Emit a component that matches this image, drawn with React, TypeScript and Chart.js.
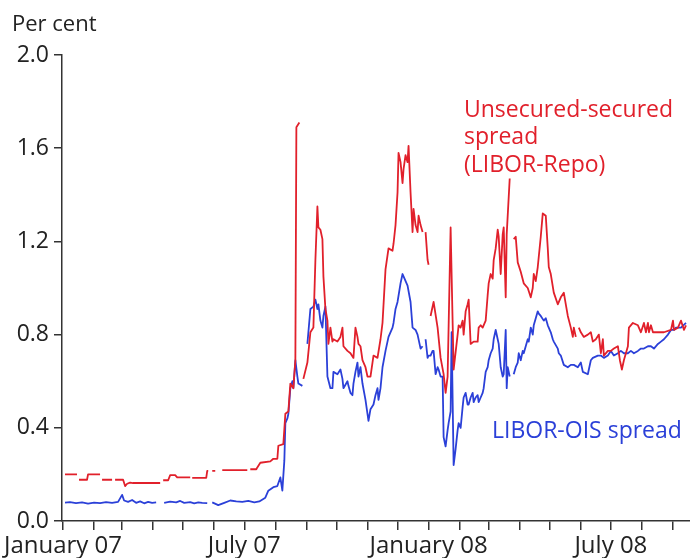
import React, { useEffect, useRef } from "react";
import { Chart, registerables } from "chart.js";

Chart.register(...registerables);

// x values: days since 1 January 2007; null values mark gaps in the series
const blueDays = [
  2, 7, 13, 19, 25, 31, 37, 43, 49, 55, 59, 61, 65, 69, 73, 77, 81, 85, 89, 93, 97,
  101, 107, 113, 117, 121, 127, 131, 135, 139, 144, 146,
  149, 155, 161, 167, 173, 179, 185, 191, 196, 202, 205, 210, 214, 217, 219, 221, 222, 224, 225, 227, 229, 230, 232, 234, 235, 239, 241,
  244, 247, 250, 252, 254, 255, 257, 259, 260, 262, 264, 267, 269, 270, 274, 277, 279, 280, 284, 285, 287, 289, 290, 292, 294, 295, 297, 299,
  302, 304, 305, 307, 310, 312, 314, 315, 317, 319, 322, 325, 329, 330, 332, 334, 337, 339, 340, 344, 347, 349, 352, 354, 357, 359, 360,
  362, 364, 365, 367, 369, 370, 372, 374, 375, 377, 379, 380, 382, 384, 385, 387, 388, 390, 392, 394, 395, 397, 399, 400, 402, 404, 405,
  407, 409, 410, 412, 414, 415, 417, 419, 420, 422, 424, 425, 427, 429, 430, 432, 434, 435, 437, 439, 440, 442, 443, 444, 446, 448,
  450, 452, 454, 455, 457, 459, 460, 462, 464, 465, 467, 469, 470, 472, 474, 475, 477, 480, 482, 484, 487, 489, 490, 494, 495, 497,
  500, 504, 507, 510, 514, 517, 519, 524, 527, 529, 534, 537, 540, 544, 547, 550, 554, 557, 560, 564, 567, 570, 574, 577, 580, 584,
  587, 590, 594, 597, 600, 604, 607, 610, 612, 617, 622,
];
const blueValues = [
  0.079, 0.081, 0.077, 0.08, 0.075, 0.079, 0.077, 0.081, 0.078, 0.082, 0.112, 0.088, 0.082, 0.09, 0.078, 0.084, 0.076, 0.082, 0.078, 0.08, null,
  0.078, 0.083, 0.08, 0.086, 0.078, 0.081, 0.076, 0.08, 0.078, 0.077, null,
  0.08, 0.068, 0.078, 0.088, 0.084, 0.082, 0.086, 0.08, 0.084, 0.1, 0.13, 0.145, 0.15, 0.187, 0.13, 0.26, 0.42, 0.44, 0.46, 0.57, 0.6, 0.57, 0.69, 0.62, 0.59, 0.58, null,
  0.76, 0.91, 0.92, 0.95, 0.91, 0.93, 0.86, 0.83, 0.88, 0.92, 0.62, 0.57, 0.57, 0.64, 0.63, 0.65, 0.61, 0.57, 0.6, 0.58, 0.55, 0.54, 0.59, 0.64, 0.68, 0.62, 0.66, 0.59,
  0.52, 0.46, 0.43, 0.48, 0.5, 0.54, 0.57, 0.52, 0.57, 0.66, 0.73, 0.79, 0.83, 0.85, 0.91, 0.94, 1.02, 1.06, 1.05, 1.01, 0.94, 0.83, 0.82, 0.8, 0.74, 0.75, null,
  0.78, 0.7, 0.71, 0.71, 0.73, 0.73, 0.63, 0.66, 0.65, 0.62, 0.62, 0.36, 0.32, 0.39, 0.42, 0.47, 0.81, 0.24, 0.31, 0.39, 0.42, 0.4, 0.49, 0.53, 0.55, 0.5, 0.5,
  0.53, 0.55, 0.51, 0.53, 0.54, 0.51, 0.53, 0.55, 0.57, 0.64, 0.66, 0.69, 0.72, 0.74, 0.78, 0.82, 0.78, 0.76, 0.66, 0.62, 0.63, 0.82, 0.57, 0.66, 0.62, null,
  0.63, 0.66, 0.68, 0.72, 0.69, 0.73, 0.72, 0.75, 0.78, 0.77, 0.83, 0.8, 0.84, 0.87, 0.9, 0.89, 0.88, 0.86, 0.87, 0.84, 0.81, 0.78, 0.77, 0.74, 0.72, 0.71,
  0.67, 0.66, 0.67, 0.67, 0.66, 0.68, 0.64, 0.63, 0.69, 0.7, 0.71, 0.71, 0.7, 0.71, 0.73, 0.71, 0.72, 0.73, 0.72, 0.72, 0.73, 0.72, 0.73, 0.74, 0.74, 0.75,
  0.75, 0.74, 0.76, 0.77, 0.78, 0.8, 0.82, 0.82, 0.83, 0.83, 0.85,
];

const redDays = [
  2, 14, 15, 16, 24, 25, 37, 38, 39, 49, 50, 52, 60, 62, 64, 67, 70, 97, 98,
  100, 105, 107, 112, 114, 127, 128, 129, 143, 144, 145, 147, 149, 152, 155,
  159, 184, 185, 187, 193, 194, 197, 207, 210, 214, 215, 220, 222, 225, 227, 230, 232, 233, 236, 238,
  240, 244, 247, 250, 252, 254, 255, 257, 259, 260, 262, 264, 265, 267, 269, 270, 274, 277, 279, 280, 284, 287, 290, 292, 294, 295, 297, 299,
  302, 304, 307, 309, 310, 314, 317, 319, 322, 325, 329, 330, 332, 334, 335, 337, 339, 340, 342, 344, 345, 347, 349, 350, 352, 354, 355, 357, 359, 360,
  362, 364, 365, 366, 367, 370, 374, 377, 380, 382, 384, 387, 390, 394, 395, 397, 399, 400, 402, 404, 405, 407, 410, 414, 415, 417, 419,
  422, 424, 425, 427, 429, 430, 432, 434, 435, 437, 439, 440, 442, 443, 446, 447,
  450, 452, 454, 457, 460, 464, 467, 469, 470, 472, 474, 477, 479, 482, 484, 485, 487, 490, 494, 497, 500, 502, 504, 507, 509, 510, 512, 513,
  515, 517, 520, 524, 527, 529, 532, 535, 537, 539, 540, 544, 547, 550, 554, 556, 558, 560, 564, 565, 569, 574, 577, 580, 582, 584, 585,
  587, 589, 592, 600, 607, 609, 610, 614, 617, 620, 622,
];
const redValues = [
  0.2, 0.2, null, 0.177, 0.177, 0.2, 0.2, null, 0.177, 0.177, null, 0.177, 0.177, 0.15, 0.16, 0.165, 0.163, 0.163, null,
  0.175, 0.175, 0.197, 0.197, 0.187, 0.187, null, 0.185, 0.185, 0.215, 0.215, null, 0.215, 0.215, null,
  0.218, 0.218, null, 0.222, 0.222, 0.23, 0.25, 0.256, 0.267, 0.267, 0.323, 0.33, 0.46, 0.47, 0.59, 0.57, 0.69, 1.69, 1.71, null,
  0.61, 0.68, 0.81, 0.83, 1.12, 1.35, 1.26, 1.25, 1.21, 1.05, 0.91, 0.86, 0.76, 0.83, 0.77, 0.78, 0.77, 0.79, 0.83, 0.75, 0.73, 0.72, 0.7, 0.83, 0.79, 0.76, 0.75, 0.69,
  0.66, 0.62, 0.62, 0.68, 0.71, 0.7, 0.78, 0.85, 1.08, 1.17, 1.16, 1.19, 1.27, 1.41, 1.58, 1.54, 1.45, 1.51, 1.57, 1.54, 1.61, 1.41, 1.24, 1.34, 1.27, 1.24, 1.31, 1.27, 1.24, null,
  1.24, 1.12, 1.1, null, 0.88, 0.94, 0.83, 0.7, 0.63, 0.55, 0.62, 1.26, 0.65, 0.8, 0.84, 0.83, 0.86, 0.8, 0.9, 0.93, 0.95, 0.76, 0.77, 0.77, 0.83, 0.84, 0.83,
  0.86, 0.97, 1.02, 1.06, 1.04, 1.12, 1.17, 1.25, 1.22, 1.06, 1.23, 1.26, 0.96, 1.23, 1.47, null,
  1.21, 1.22, 1.11, 1.07, 1.02, 1.0, 0.96, 1.0, 1.06, 1.03, 1.09, 1.22, 1.32, 1.31, 1.17, 1.09, 1.06, 0.98, 0.93, 0.96, 0.98, 0.93, 0.88, 0.83, 0.79, 0.83, 0.79, null,
  0.83, 0.81, 0.79, 0.8, 0.81, 0.77, 0.78, 0.8, 0.72, 0.78, 0.71, 0.73, 0.73, 0.74, 0.75, 0.69, 0.65, 0.69, 0.75, 0.83, 0.85, 0.84, 0.81, 0.85, 0.81, 0.85, 0.81,
  0.84, 0.81, 0.81, 0.81, 0.82, 0.86, 0.82, 0.83, 0.86, 0.82, 0.84,
];

// month starts (days since 1 January 2007) and their labels
const tickDays = [0, 31, 59, 90, 120, 151, 181, 212, 243, 273, 304, 334, 365, 396, 425, 456, 486, 517, 547, 578, 609];
const tickLabels = ["January 07", "", "", "", "", "", "July 07", "", "", "", "", "", "January 08", "", "", "", "", "", "July 08", "", ""];

const yTicks = [0, 0.4, 0.8, 1.2, 1.6, 2.0];

const RED = "#e1202b";
const BLUE = "#2b40d8";
const AXIS = "#333333";
const FONT = "'Open Sans', 'Noto Sans', sans-serif";

const textPlugin = {
  id: "textPlugin",
  afterDraw(chart: any) {
    const ctx = chart.ctx;
    ctx.save();
    ctx.textBaseline = "alphabetic";
    ctx.textAlign = "left";
    ctx.font = `22px ${FONT}`;
    ctx.fillStyle = "#222";
    ctx.fillText("Per cent", 12, 31);
    ctx.font = `23px ${FONT}`;
    ctx.fillStyle = RED;
    ctx.fillText("Unsecured-secured", 464, 117);
    ctx.fillText("spread", 464, 144);
    ctx.fillText("(LIBOR-Repo)", 464, 172);
    ctx.fillStyle = BLUE;
    ctx.fillText("LIBOR-OIS spread", 492, 438);
    ctx.restore();
  },
};

function toPoints(days: number[], values: (number | null)[]) {
  return days.map((d, i) => ({ x: d, y: values[i] }));
}

export default function App() {
  const ref = useRef<HTMLCanvasElement | null>(null);
  useEffect(() => {
    if (!ref.current) return;
    const chart = new Chart(ref.current, {
      type: "line",
      data: {
        datasets: [
          {
            label: "Unsecured-secured spread (LIBOR-Repo)",
            data: toPoints(redDays, redValues) as any,
            borderColor: RED,
            borderWidth: 1.8,
            pointRadius: 0,
            tension: 0,
            spanGaps: false,
            borderJoinStyle: "round",
          },
          {
            label: "LIBOR-OIS spread",
            data: toPoints(blueDays, blueValues) as any,
            borderColor: BLUE,
            borderWidth: 1.8,
            pointRadius: 0,
            tension: 0,
            spanGaps: false,
            borderJoinStyle: "round",
          },
        ],
      },
      options: {
        animation: false,
        responsive: true,
        maintainAspectRatio: false,
        layout: { padding: { top: 55, left: 0, right: 0, bottom: 0 } },
        plugins: { legend: { display: false }, tooltip: { enabled: false }, title: { display: false } },
        scales: {
          x: {
            type: "linear",
            min: -1,
            max: 626,
            afterBuildTicks: (scale: any) => {
              scale.ticks = tickDays.map((v) => ({ value: v }));
            },
            afterFit: (scale: any) => {
              scale.height = 37;
            },
            ticks: {
              autoSkip: false,
              maxRotation: 0,
              padding: 2,
              color: "#222",
              font: { family: FONT, size: 24 },
              callback: (_v: any, i: number) => tickLabels[i],
            },
            grid: { drawOnChartArea: false, drawTicks: true, tickLength: 9, color: AXIS, lineWidth: 1.5 },
            border: { display: true, color: AXIS, width: 1.5 },
          },
          y: {
            min: 0,
            max: 2,
            afterBuildTicks: (scale: any) => {
              scale.ticks = yTicks.map((v) => ({ value: v }));
            },
            afterFit: (scale: any) => {
              scale.width = 62;
            },
            ticks: {
              padding: 5,
              color: "#222",
              font: { family: FONT, size: 23 },
              callback: (v: any) => Number(v).toFixed(1),
            },
            grid: { drawOnChartArea: false, drawTicks: true, tickLength: 8, color: AXIS, lineWidth: 1.5 },
            border: { display: true, color: AXIS, width: 1.5 },
          },
        },
      },
      plugins: [textPlugin],
    });
    return () => chart.destroy();
  }, []);
  return (
    <div style={{ position: "absolute", left: 0, top: 0, width: 690, height: 558, background: "#fff" }}>
      <canvas ref={ref} />
    </div>
  );
}
